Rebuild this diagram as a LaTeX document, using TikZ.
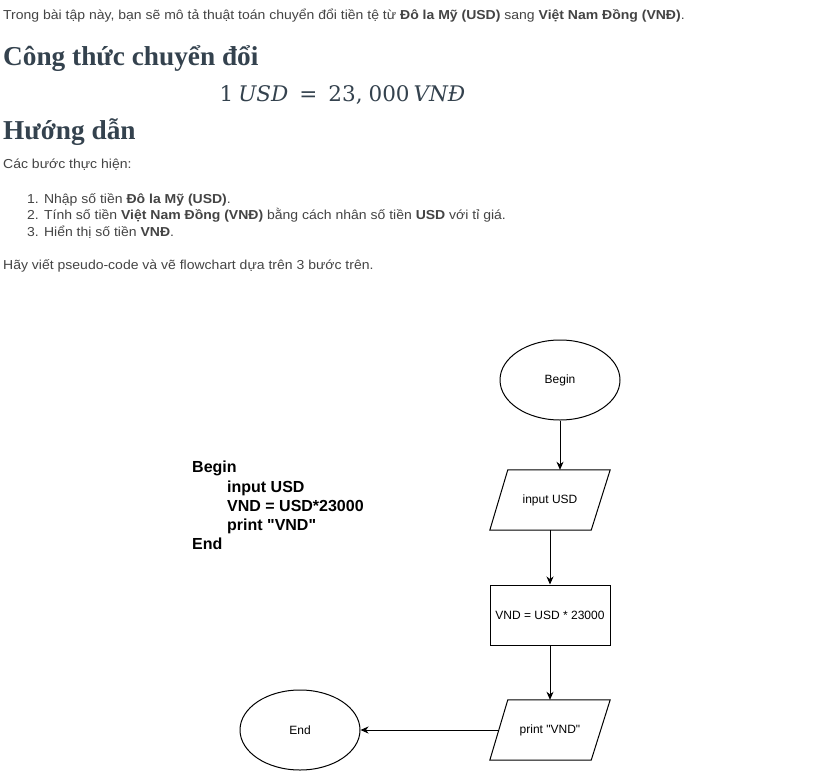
\documentclass[tikz,border=0pt]{standalone}
\usepackage{fontspec}
\newfontfamily\bodyfont[FakeStretch=1.077]{Liberation Sans}
\newfontfamily\flowfont{Liberation Sans}
\newfontfamily\headfont{Liberation Serif}
\newfontfamily\formulafont{DejaVu Serif}
\usetikzlibrary{shapes.geometric,arrows.meta,calc}
\definecolor{bodygray}{RGB}{68,68,68}
\definecolor{headslate}{RGB}{52,66,78}
\tikzset{
  bodytxt/.style={anchor=base west,inner sep=0,text=bodygray,font=\bodyfont\fontsize{13}{15}\selectfont},
  headtxt/.style={anchor=base west,inner sep=0,text=headslate,font=\headfont\bfseries\fontsize{27.3}{32}\selectfont},
  codetxt/.style={anchor=base west,inner sep=0,text=black,font=\flowfont\bfseries\fontsize{16}{19}\selectfont},
  flowline/.style={draw=black,line width=1pt},
  arr/.style={flowline,-{Stealth[length=8pt,width=7pt,inset=2.5pt]}},
  term/.style={ellipse,flowline,minimum width=120pt,minimum height=80pt,inner sep=0,font=\flowfont\fontsize{12}{14}\selectfont},
  procbox/.style={rectangle,flowline,minimum width=120pt,minimum height=60pt,inner sep=0,font=\flowfont\fontsize{12}{14}\selectfont},
  iobox/.style={rectangle,minimum width=120pt,minimum height=60pt,inner sep=0,font=\flowfont\fontsize{12}{14}\selectfont},
}
\begin{document}
\begin{tikzpicture}[x=1pt,y=-1pt]
\useasboundingbox (0,0) rectangle (830,771);
\fill[white] (0,0) rectangle (830,771);
% text part
\node[bodytxt] (intro) at (3,19.5) {Trong bài tập này, bạn sẽ mô tả thuật toán chuyển đổi tiền tệ từ \textbf{Đô la Mỹ (USD)} sang \textbf{Việt Nam Đồng (VNĐ)}.};
\node[headtxt] (h1) at (3,65.5) {Công thức chuyển đổi};
\node[anchor=base,inner sep=0,text=headslate,font=\formulafont\fontsize{21.5}{25}\selectfont] (formula) at (342.5,101) {1\hspace{5pt}\textit{USD}\hspace{11pt}=\hspace{11pt}23,\hspace{6pt}000\hspace{4pt}\textit{VNĐ}};
\node[headtxt] (h2) at (3,139) {Hướng dẫn};
\node[bodytxt] (steps) at (3,168) {Các bước thực hiện:};
\node[bodytxt] (s1) at (27,203) {1. Nhập số tiền \textbf{Đô la Mỹ (USD)}.};
\node[bodytxt] (s2) at (27,219.5) {2. Tính số tiền \textbf{Việt Nam Đồng (VNĐ)} bằng cách nhân số tiền \textbf{USD} với tỉ giá.};
\node[bodytxt] (s3) at (27,236) {3. Hiển thị số tiền \textbf{VNĐ}.};
\node[bodytxt] (ask) at (3,269) {Hãy viết pseudo-code và vẽ flowchart dựa trên 3 bước trên.};
% pseudo-code
\node[codetxt] (c1) at (192,472) {Begin};
\node[codetxt] (c2) at (227,492) {input USD};
\node[codetxt] (c3) at (227,511.5) {VND = USD*23000};
\node[codetxt] (c4) at (227,530.5) {print "VND"};
\node[codetxt] (c5) at (192,549.5) {End};
% flowchart
\node[term] (begin) at (560,380) {Begin};
\node[iobox] (in) at (550,500) {input USD};
\draw[flowline] ($(in.north west)+(18,0)$) -- (in.north east) -- ($(in.south east)+(-19,0)$) -- (in.south west) -- cycle;
\node[procbox] (calc) at (550,615) {VND = USD * 23000};
\node[iobox] (pr) at (550,730) {print "VND"};
\draw[flowline] ($(pr.north west)+(18,0)$) -- (pr.north east) -- ($(pr.south east)+(-19,0)$) -- (pr.south west) -- cycle;
\coordinate (prleft) at ($(pr.west)+(9,0)$);
\node[term] (end) at (300,730) {End};
\draw[arr] (begin.south) -- (begin.south |- in.north);
\draw[arr] (in.south) -- (calc.north);
\draw[arr] (calc.south) -- (pr.north);
\draw[arr] (prleft) -- (end.east);
\end{tikzpicture}
\end{document}
